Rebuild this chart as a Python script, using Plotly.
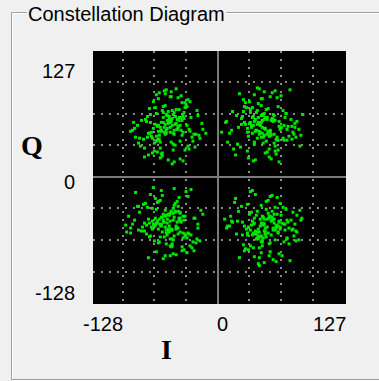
import plotly.graph_objects as go

# ---------------- data ----------------
ul_i = [-48,-52,-41,-60,-35,-55,-44,-67,-50,-38,
        -58,-46,-29,-63,-53,-42,-71,-49,-36,-57,
        -45,-62,-40,-54,-33,-66,-47,-51,-39,-59,
        -43,-74,-56,-37,-48,-61,-31,-52,-45,-68,
        -41,-55,-26,-50,-64,-43,-58,-35,-47,-53,
        -79,-40,-60,-44,-22,-56,-49,-65,-38,-51,
        -46,-70,-34,-57,-42,-62,-48,-30,-54,-45,
        -67,-39,-59,-50,-84,-37,-53,-44,-61,-28,
        -55,-47,-72,-41,-58,-49,-36,-63,-52,-43,
        -18,-57,-46,-69,-40,-51,-33,-60,-48,-55,
        -20,-75,-30,-66,-85,-24,-62,-33,-78,-15,
        -52,-27,-70,-40,-88,-58,-21,-44,-73,-36,
        -64,-32,-81,-47,-25,-56,-69,-12,-43,-60,
        -38,-77,-53,-29,-65,-46,-83,-34,-59,-23,
        -71,-42,-19,-57,-37,-80,-50,-28,-68,-45,
        -31,-62,-54,-74,-39,-16,-61,-48,-86,-35]
ul_q = [50,44,58,38,62,55,47,41,66,52,
        35,59,48,70,43,54,40,61,57,46,
        33,64,51,45,75,39,56,49,60,42,
        53,29,67,47,58,37,52,63,44,55,
        48,71,40,57,34,61,50,45,81,53,
        39,58,46,65,43,24,56,49,36,62,
        52,44,59,47,68,41,55,31,50,63,
        45,57,38,54,49,60,72,43,51,46,
        65,35,56,48,19,58,42,53,47,61,
        39,55,67,44,50,57,27,52,45,60,
        62,38,78,24,55,43,83,70,31,48,
        88,60,22,80,46,29,67,15,58,75,
        26,73,52,86,36,21,69,44,32,79,
        18,57,84,28,76,13,40,65,85,30,
        61,89,42,23,82,34,17,76,63,27,
        71,36,87,20,68,54,25,81,47,16]

ur_i = [43,38,50,31,56,45,27,61,40,48,
        35,53,42,66,29,47,58,37,44,71,
        51,33,46,62,39,55,24,49,41,64,
        36,57,44,30,52,69,42,47,34,59,
        45,26,54,40,63,48,37,75,43,51,
        32,60,46,39,56,21,50,44,67,38,
        53,41,28,58,47,35,62,45,52,33,
        49,70,40,55,43,30,57,46,64,37,
        42,54,25,48,60,39,51,78,44,36,
        56,47,34,61,41,53,9,45,58,50,
        15,72,23,60,80,18,55,33,76,10,
        48,26,68,38,82,58,20,44,74,30,
        64,12,52,86,28,70,40,16,62,35,
        78,22,50,66,31,84,45,19,57,73,
        8,61,37,79,27,54,69,14,47,83,
        32,59,24,75,42,67,4,53,36,77]
ur_q = [52,46,58,41,63,50,55,37,67,48,
        60,44,54,39,70,49,57,33,62,51,
        45,65,40,56,47,59,53,36,74,50,
        61,43,55,49,28,64,46,58,52,38,
        57,66,42,53,48,60,35,51,45,69,
        54,40,62,47,56,50,43,79,37,58,
        46,60,53,31,64,44,51,57,41,55,
        68,48,39,59,52,45,62,34,50,56,
        43,57,61,49,37,65,46,54,40,52,
        58,42,50,71,55,47,56,44,26,60,
        66,41,30,80,56,22,85,68,45,35,
        24,78,60,17,48,87,33,72,58,26,
        82,44,20,63,75,37,90,28,15,70,
        50,84,25,67,19,42,79,62,34,88,
        55,27,83,40,71,18,64,47,86,31,
        76,23,59,38,89,52,45,81,16,43]

ll_i = [-48,-55,-40,-62,-35,-51,-44,-68,-57,-38,
        -46,-59,-31,-53,-42,-71,-49,-37,-64,-45,
        -52,-29,-58,-43,-66,-39,-54,-47,-76,-41,
        -60,-34,-50,-45,-63,-27,-56,-48,-69,-42,
        -53,-38,-61,-46,-33,-57,-44,-80,-51,-36,
        -65,-49,-40,-55,-47,-24,-59,-43,-67,-52,
        -39,-58,-45,-72,-50,-35,-62,-48,-41,-88,
        -54,-30,-57,-46,-64,-43,-51,-37,-60,-49,
        -44,-70,-53,-40,-56,-20,-47,-63,-52,-38,
        -58,-45,-66,-42,-50,-33,-61,-48,-55,-74,
        -20,-80,-28,-68,-90,-24,-60,-35,-77,-15,
        -53,-30,-72,-40,-86,-57,-22,-45,-75,-33,
        -66,-26,-83,-49,-18,-58,-70,-38,-92,-44,
        -31,-63,-52,-79,-27,-47,-84,-36,-61,-21,
        -74,-42,-17,-56,-88,-34,-65,-50,-25,-81,
        -39,-69,-55,-23,-73,-46,-93,-32,-62,-48]
ll_q = [-45,-38,-52,-33,-57,-47,-41,-60,-49,-36,
        -54,-43,-62,-40,-50,-31,-56,-46,-65,-44,
        -39,-58,-48,-27,-53,-42,-61,-35,-51,-46,
        -67,-44,-55,-37,-49,-59,-41,-70,-47,-52,
        -34,-56,-45,-63,-40,-50,-29,-54,-43,-75,
        -48,-38,-58,-46,-53,-42,-66,-36,-51,-57,
        -44,-61,-32,-49,-55,-40,-47,-63,-25,-52,
        -46,-57,-41,-68,-50,-35,-59,-45,-53,-39,
        -60,-43,-51,-30,-56,-48,-71,-42,-54,-37,
        -49,-64,-45,-53,-38,-58,-47,-80,-44,-55,
        -52,-30,-70,-18,-40,-75,-25,-62,-55,-38,
        -80,-20,-58,-35,-48,-14,-67,-78,-28,-60,
        -32,-72,-16,-50,-65,-24,-82,-42,-56,-12,
        -77,-22,-68,-36,-13,-54,-44,-71,-26,-63,
        -47,-79,-34,-19,-57,-74,-11,-53,-66,-30,
        -21,-61,-83,-42,-27,-70,-49,-15,-76,-37]

lr_i = [43,50,36,57,40,47,29,62,45,53,
        38,65,44,31,55,48,70,41,34,59,
        46,52,25,61,39,56,43,67,49,35,
        54,42,72,47,30,58,45,63,37,51,
        41,60,48,33,55,44,76,39,52,27,
        57,46,64,40,50,20,53,43,68,36,
        48,34,59,45,62,41,55,30,47,74,
        39,56,44,66,51,37,58,46,12,53,
        60,42,49,35,63,45,54,40,71,48,
        33,57,44,61,38,52,46,79,42,55,
        15,72,24,62,80,18,56,32,77,10,
        49,27,70,38,84,59,21,45,75,30,
        65,13,53,82,28,69,41,17,61,36,
        78,22,51,67,33,85,44,19,58,73,
        9,63,37,80,26,55,70,14,47,83,
        31,60,25,76,42,68,7,52,35,79]
lr_q = [-50,-43,-57,-38,-62,-48,-53,-45,-66,-40,
        -55,-47,-60,-51,-35,-58,-44,-63,-49,-52,
        -41,-68,-46,-56,-39,-54,-61,-48,-33,-59,
        -45,-72,-52,-43,-57,-64,-40,-51,-47,-37,
        -60,-49,-55,-70,-44,-29,-53,-58,-42,-50,
        -47,-62,-39,-56,-51,-45,-76,-43,-54,-48,
        -58,-36,-50,-65,-46,-53,-41,-59,-55,-44,
        -63,-52,-47,-31,-57,-42,-54,-49,-50,-67,
        -38,-56,-61,-45,-53,-48,-59,-35,-46,-52,
        -54,-43,-66,-50,-58,-40,-47,-55,-82,-44,
        -46,-68,-30,-78,-56,-22,-84,-38,-60,-50,
        -25,-75,-62,-18,-44,-86,-35,-70,-54,-28,
        -80,-40,-20,-64,-73,-33,-88,-26,-57,-72,
        -48,-82,-24,-66,-15,-42,-77,-58,-31,-85,
        -52,-27,-81,-39,-69,-19,-63,-45,-87,-34,
        -74,-21,-59,-36,-90,-48,-43,-80,-14,-65]

x_tick_labels = ["-128", "0", "127"]
y_tick_labels = ["127", "0", "-128"]
grid_vals = [-96, -64, -32, 32, 64, 96]
title_text = "Constellation Diagram"

# ---------------- layout helpers ----------------
W, H = 379, 381
L, R, T, B = 93, 33, 51, 77
PW, PH = W - L - R, H - T - B


def pxx(px):
    return (px - L) / PW


def pxy(py):
    return (H - B - py) / PH


fig = go.Figure()
for xi, qi in [(ul_i, ul_q), (ur_i, ur_q), (ll_i, ll_q), (lr_i, lr_q)]:
    fig.add_trace(go.Scatter(
        x=xi, y=qi, mode="markers",
        marker=dict(symbol="square", size=3, color="#00e600", line=dict(width=0)),
        showlegend=False, hoverinfo="skip"))

axis_common = dict(
    showticklabels=False, ticks="", showline=False,
    showgrid=True, gridcolor="#8a8a8a", gridwidth=1.5, griddash="2px,6px",
    zeroline=True, zerolinecolor="#7a7a7a", zerolinewidth=2, fixedrange=True)

fig.update_xaxes(range=[-126, 129.6], tickvals=grid_vals, **axis_common)
fig.update_yaxes(range=[-128.9, 127.3], tickvals=grid_vals + [-128], **axis_common)

shapes = [
    dict(type="rect", xref="paper", yref="paper",
         x0=pxx(12.5), x1=pxx(395), y0=pxy(380.5), y1=pxy(13.5),
         line=dict(color="#ffffff", width=1), layer="below"),
    dict(type="rect", xref="paper", yref="paper",
         x0=pxx(11.5), x1=pxx(394), y0=pxy(379.5), y1=pxy(12.5),
         line=dict(color="#a0a0a0", width=1), layer="below"),
]

lab_font = dict(family="Liberation Sans, Arial, sans-serif", size=20, color="#000000")
axis_font = dict(family="Liberation Serif, Times New Roman, serif", size=28, color="#000000")

annotations = [
    dict(text=title_text, xref="paper", yref="paper", x=pxx(26), y=pxy(14),
         xanchor="left", yanchor="middle", showarrow=False, font=lab_font,
         bgcolor="#f0f0f0", borderpad=1),
    # y tick labels
    dict(text=y_tick_labels[0], xref="paper", yref="paper", x=pxx(77), y=pxy(71),
         xanchor="right", yanchor="middle", showarrow=False, font=lab_font),
    dict(text=y_tick_labels[1], xref="paper", yref="paper", x=pxx(77), y=pxy(182),
         xanchor="right", yanchor="middle", showarrow=False, font=lab_font),
    dict(text=y_tick_labels[2], xref="paper", yref="paper", x=pxx(77), y=pxy(293),
         xanchor="right", yanchor="middle", showarrow=False, font=lab_font),
    # x tick labels
    dict(text=x_tick_labels[0], xref="paper", yref="paper", x=pxx(103), y=pxy(324),
         xanchor="center", yanchor="middle", showarrow=False, font=lab_font),
    dict(text=x_tick_labels[1], xref="paper", yref="paper", x=pxx(222), y=pxy(324),
         xanchor="center", yanchor="middle", showarrow=False, font=lab_font),
    dict(text=x_tick_labels[2], xref="paper", yref="paper", x=pxx(329), y=pxy(324),
         xanchor="center", yanchor="middle", showarrow=False, font=lab_font),
    # axis names
    dict(text="<b>Q</b>", xref="paper", yref="paper", x=pxx(32), y=pxy(145),
         xanchor="center", yanchor="middle", showarrow=False, font=axis_font),
    dict(text="<b>I</b>", xref="paper", yref="paper", x=pxx(166), y=pxy(349),
         xanchor="center", yanchor="middle", showarrow=False, font=axis_font),
]

fig.update_layout(
    width=W, height=H, autosize=False,
    margin=dict(l=L, r=R, t=T, b=B, pad=0),
    paper_bgcolor="#f0f0f0", plot_bgcolor="#000000",
    shapes=shapes, annotations=annotations,
    showlegend=False,
)

fig.write_html(
    "out.html",
    config={"displayModeBar": False},
    post_script="document.body.style.margin='0';document.body.style.background='#f0f0f0';",
)
